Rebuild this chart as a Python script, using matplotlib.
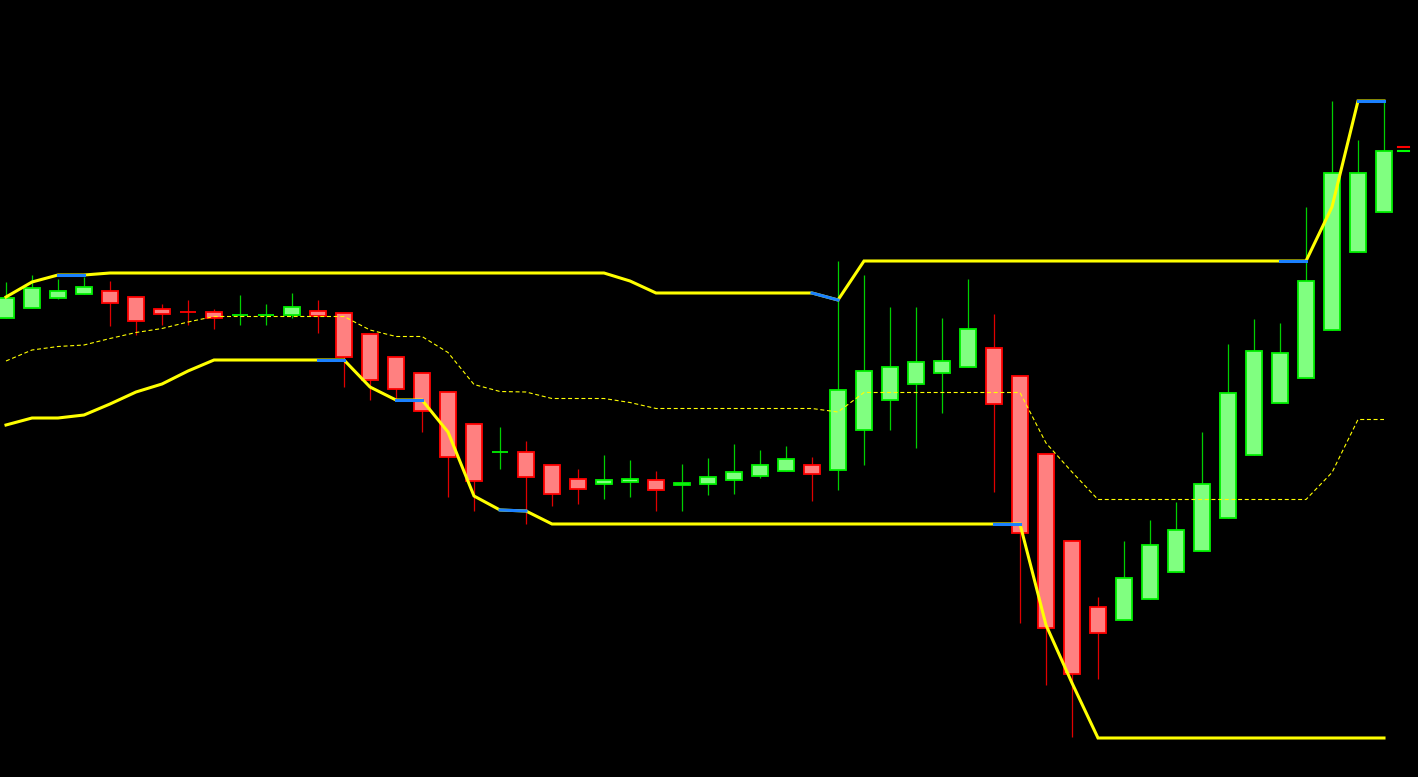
"""
Candlestick chart with a price channel (upper / lower / middle line),
black background, in the style of a trading terminal.
"""

import matplotlib
matplotlib.use("Agg")
import matplotlib.pyplot as plt
from matplotlib.patches import Rectangle


# --- Candles (open, high, low, close) ---
opens = [
    2048.2, 2049.2, 2050.2, 2050.6, 2050.9, 2050.3, 2049.1, 2048.8, 2048.8, 2048.48,
    2048.48, 2048.5, 2048.9, 2048.7, 2046.6, 2044.3, 2042.7, 2040.8, 2037.6, 2034.78,
    2034.8, 2033.5, 2032.1, 2031.6, 2031.8, 2032.0, 2031.5, 2031.6, 2032.0, 2032.4,
    2032.9, 2033.5, 2033.0, 2037.0, 2040.0, 2041.6, 2042.7, 2043.3, 2045.2, 2042.4,
    2034.6, 2025.9, 2019.3, 2018.0, 2020.1, 2022.8, 2024.9, 2028.2, 2034.5, 2039.7,
    2042.2, 2047.0, 2054.8, 2058.8,
]
highs = [
    2051.8, 2052.5, 2052.1, 2052.3, 2051.9, 2050.3, 2049.6, 2050.0, 2049.1, 2050.5,
    2049.6, 2050.7, 2050.0, 2048.7, 2046.6, 2044.3, 2042.7, 2040.8, 2037.6, 2037.3,
    2035.9, 2033.5, 2033.1, 2034.5, 2034.0, 2032.9, 2033.6, 2034.2, 2035.6, 2035.0,
    2035.4, 2034.3, 2053.9, 2052.5, 2049.3, 2049.3, 2048.2, 2052.1, 2048.6, 2042.4,
    2034.6, 2025.9, 2020.3, 2025.9, 2028.0, 2029.8, 2036.8, 2045.6, 2048.1, 2047.7,
    2059.3, 2069.9, 2066.0, 2069.9,
]
lows = [
    2048.2, 2049.2, 2050.1, 2050.6, 2047.4, 2046.5, 2047.5, 2047.5, 2047.1, 2047.5,
    2047.5, 2048.2, 2046.7, 2041.3, 2040.0, 2040.0, 2036.8, 2030.3, 2028.9, 2033.1,
    2027.6, 2029.4, 2029.6, 2030.1, 2030.3, 2028.9, 2028.9, 2030.5, 2030.6, 2032.2,
    2032.9, 2029.9, 2031.0, 2033.5, 2037.0, 2035.2, 2038.7, 2043.3, 2030.8, 2017.7,
    2011.5, 2006.3, 2012.1, 2018.0, 2020.1, 2022.8, 2024.9, 2028.2, 2034.5, 2039.7,
    2042.2, 2047.0, 2054.8, 2058.8,
]
closes = [
    2050.2, 2051.2, 2050.9, 2051.3, 2049.7, 2047.9, 2048.6, 2048.78, 2048.2, 2048.5,
    2048.5, 2049.3, 2048.4, 2044.3, 2042.0, 2041.1, 2038.9, 2034.3, 2031.9, 2034.8,
    2032.3, 2030.6, 2031.1, 2032.0, 2032.1, 2031.0, 2031.7, 2032.3, 2032.8, 2033.5,
    2034.1, 2032.6, 2041.0, 2042.9, 2043.3, 2043.8, 2043.9, 2047.1, 2039.6, 2026.7,
    2017.2, 2012.6, 2016.7, 2022.2, 2025.5, 2027.0, 2031.6, 2040.7, 2044.9, 2044.7,
    2051.9, 2062.7, 2062.7, 2064.9,
]

# --- Channel ---
upper = (
    [2050.3, 2051.8, 2052.5, 2052.5]
    + [2052.7] * 20
    + [2051.9]
    + [2050.7] * 7
    + [2050.0]
    + [2053.9] * 18
    + [2059.3, 2069.9, 2069.9]
)
lower = (
    [2037.5, 2038.2, 2038.2, 2038.5, 2039.6, 2040.8, 2041.6, 2042.9, 2044.0]
    + [2044.0] * 5
    + [2041.3, 2040.0, 2040.0, 2036.8, 2030.4, 2029.0, 2028.9]
    + [2027.6] * 19
    + [2017.5, 2011.7]
    + [2006.2] * 12
)
middle = (
    [2043.9, 2045.0, 2045.35, 2045.5, 2046.15, 2046.75, 2047.15, 2047.8, 2048.35]
    + [2048.35] * 5
    + [2047.0, 2046.35, 2046.35, 2044.75, 2041.55, 2040.85, 2040.8]
    + [2040.15] * 3
    + [2039.75]
    + [2039.15] * 7
    + [2038.8]
    + [2040.75] * 7
    + [2035.7, 2032.8]
    + [2030.05] * 9
    + [2032.75, 2038.05, 2038.05]
)

# segmentos azuis (índice inicial do segmento i -> i+1)
upper_blue = [2, 31, 49, 52]
lower_blue = [12, 15, 19, 38]

bid = 2064.9
ask = 2065.3

# --- Cores ---
BULL_FILL = "#80ff80"
BULL_EDGE = "#00f000"
BULL_WICK = "#00d000"
BEAR_FILL = "#ff8080"
BEAR_EDGE = "#ff0000"
BEAR_WICK = "#e00000"
CHANNEL = "#ffff00"
BLUE = "#1a80ff"


def main():
    fig = plt.figure(figsize=(14.18, 7.77), dpi=100, facecolor="black")
    ax = fig.add_axes([0, 0, 1, 1])
    ax.set_facecolor("black")
    ax.set_axis_off()

    n = len(opens)
    xs = list(range(n))
    body_w = 0.6

    # candles
    for i in xs:
        o, h, l, c = opens[i], highs[i], lows[i], closes[i]
        bull = c >= o
        wick = BULL_WICK if bull else BEAR_WICK
        fill = BULL_FILL if bull else BEAR_FILL
        edge = BULL_EDGE if bull else BEAR_EDGE
        ax.plot([i, i], [l, h], color=wick, lw=0.9, zorder=2, solid_capstyle="butt")
        bottom = min(o, c)
        height = abs(c - o)
        ax.add_patch(Rectangle((i - body_w / 2, bottom), body_w, height,
                               facecolor=fill, edgecolor=edge, lw=1.3, zorder=3))

    # canal
    ax.plot(xs, middle, color=CHANNEL, lw=0.8, linestyle=(0, (3.6, 2.4)), zorder=4)
    ax.plot(xs, upper, color=CHANNEL, lw=2.2, zorder=5, solid_joinstyle="miter")
    ax.plot(xs, lower, color=CHANNEL, lw=2.2, zorder=5, solid_joinstyle="miter")
    for k in upper_blue:
        ax.plot([k, k + 1], [upper[k], upper[k + 1]], color=BLUE, lw=2.2, zorder=6)
    for k in lower_blue:
        ax.plot([k, k + 1], [lower[k], lower[k + 1]], color=BLUE, lw=2.2, zorder=6)

    # bid / ask
    ax.plot([n - 0.46, n - 0.04], [ask, ask], color="#ff0000", lw=1.5, zorder=6)
    ax.plot([n - 0.46, n - 0.04], [bid, bid], color="#00ff00", lw=1.5, zorder=6)

    ax.set_xlim(-6 / 26, 1412 / 26)
    ax.set_ylim(2002.3, 2080.0)

    plt.savefig("out.png", dpi=100, facecolor="black")
    plt.close()


if __name__ == "__main__":
    main()
